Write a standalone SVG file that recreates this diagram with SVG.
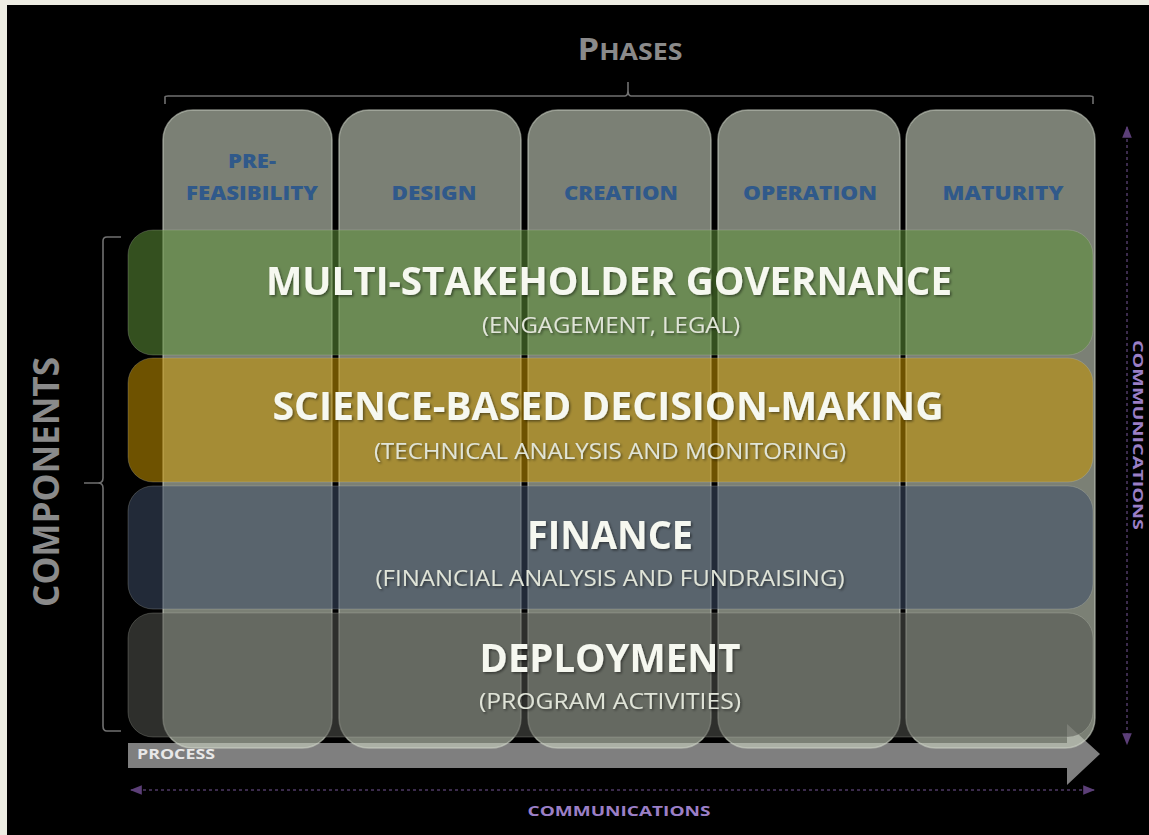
<svg xmlns="http://www.w3.org/2000/svg" width="1149" height="835" viewBox="0 0 1149 835">
  <style>
    .col { fill: #c6cebd; fill-opacity: 0.62; stroke: #d4d8cc; stroke-opacity: 0.55; stroke-width: 1.5; }
    .row { fill-opacity: 0.55; stroke: #c8cdbf; stroke-opacity: 0.25; stroke-width: 1; }
    .hdr { font-family: "Open Sans", "Liberation Sans", sans-serif; font-weight: 800; font-size: 20px; fill: #30598a; text-anchor: middle; }
    .ttl { font-family: "Open Sans", "Liberation Sans", sans-serif; font-weight: 700; font-size: 40px; fill: #f6f8f0; text-anchor: middle; filter: url(#sh); }
    .sub { font-family: "Open Sans", "Liberation Sans", sans-serif; font-weight: 400; font-size: 21px; fill: #e0e4d8; text-anchor: middle; filter: url(#sh); }
    .brk { fill: none; stroke: #707070; stroke-width: 1.6; }
    .comm { stroke: #3b2b4c; stroke-width: 2; stroke-dasharray: 3 3; fill: none; }
    .commtxt { font-family: "Open Sans", "Liberation Sans", sans-serif; font-weight: 700; font-size: 15px; fill: #9b7fc6; text-anchor: middle; }
    .lbl { font-family: "Open Sans", "Liberation Sans", sans-serif; font-weight: 700; fill: #8a8a8a; text-anchor: middle; }
  </style>
  <defs>
    <filter id="sh" x="-5%" y="-20%" width="110%" height="140%">
      <feDropShadow dx="1.5" dy="1.5" stdDeviation="1" flood-color="#000" flood-opacity="0.45"/>
    </filter>
    <marker id="cm" viewBox="0 0 10 10" refX="9" refY="5" markerWidth="6" markerHeight="6" orient="auto-start-reverse">
      <path d="M0,1 L10,5 L0,9 z" fill="#5c3f78"/>
    </marker>
  </defs>

  <rect x="0" y="0" width="1149" height="835" fill="#eeede3"/>
  <rect x="7" y="5" width="1142" height="830" fill="#000"/>

  <g id="connectors">
    <path id="process-arrow" d="M128,743 L1067,743 L1067,724 L1100,754 L1067,785 L1067,768 L128,768 Z" fill="#7f7f7f"/>
    <line class="comm" x1="131" y1="790" x2="1094" y2="790" marker-start="url(#cm)" marker-end="url(#cm)"/>
    <line class="comm" x1="1127" y1="127" x2="1127" y2="744" marker-start="url(#cm)" marker-end="url(#cm)"/>
    <path class="brk" d="M165,104 L165,97 Q165,96 168,96 L625,96 Q628,96 628,90 L628,82 M628,90 Q628,96 631,96 L1090,96 Q1093,96 1093,97 L1093,104"/>
    <path class="brk" d="M121,237 L107,237 Q103,237 103,241 L103,478 Q103,483 98,483 L84,483 M98,483 Q103,483 103,488 L103,726 Q103,731 107,731 L121,731"/>
  </g>

  <g id="phase-prefeasibility"><rect class="col" x="163" y="110" width="169" height="638" rx="30"/></g>
  <g id="phase-design"><rect class="col" x="339" y="110" width="182" height="638" rx="30"/></g>
  <g id="phase-creation"><rect class="col" x="528" y="110" width="183" height="638" rx="30"/></g>
  <g id="phase-operation"><rect class="col" x="718" y="110" width="182" height="638" rx="30"/></g>
  <g id="phase-maturity"><rect class="col" x="906" y="110" width="189" height="638" rx="30"/></g>

  <g id="component-governance">
    <rect class="row" x="128" y="230" width="965" height="125" rx="25" fill="#5f9138"/>
    <text class="ttl" x="609" y="295" textLength="686" lengthAdjust="spacingAndGlyphs">MULTI-STAKEHOLDER GOVERNANCE</text>
    <text class="sub" x="611" y="333" textLength="258" lengthAdjust="spacingAndGlyphs">(ENGAGEMENT, LEGAL)</text>
  </g>
  <g id="component-science">
    <rect class="row" x="128" y="358" width="965" height="124" rx="25" fill="#c89500"/>
    <text class="ttl" x="608" y="420" textLength="671" lengthAdjust="spacingAndGlyphs">SCIENCE-BASED DECISION-MAKING</text>
    <text class="sub" x="610" y="459" textLength="472" lengthAdjust="spacingAndGlyphs">(TECHNICAL ANALYSIS AND MONITORING)</text>
  </g>
  <g id="component-finance">
    <rect class="row" x="128" y="486" width="965" height="123" rx="25" fill="#3e4c66"/>
    <text class="ttl" x="610" y="549" textLength="166" lengthAdjust="spacingAndGlyphs">FINANCE</text>
    <text class="sub" x="610" y="586" textLength="469" lengthAdjust="spacingAndGlyphs">(FINANCIAL ANALYSIS AND FUNDRAISING)</text>
  </g>
  <g id="component-deployment">
    <rect class="row" x="128" y="613" width="965" height="124" rx="25" fill="#545650"/>
    <text class="ttl" x="610" y="672" textLength="261" lengthAdjust="spacingAndGlyphs">DEPLOYMENT</text>
    <text class="sub" x="610" y="709" textLength="262" lengthAdjust="spacingAndGlyphs">(PROGRAM ACTIVITIES)</text>
  </g>

  <g id="phase-labels">
    <text class="hdr" x="252" y="168" textLength="48" lengthAdjust="spacingAndGlyphs">PRE-</text>
    <text class="hdr" x="252" y="200" textLength="132" lengthAdjust="spacingAndGlyphs">FEASIBILITY</text>
    <text class="hdr" x="434" y="200" textLength="85" lengthAdjust="spacingAndGlyphs">DESIGN</text>
    <text class="hdr" x="621" y="200" textLength="114" lengthAdjust="spacingAndGlyphs">CREATION</text>
    <text class="hdr" x="810" y="200" textLength="134" lengthAdjust="spacingAndGlyphs">OPERATION</text>
    <text class="hdr" x="1003" y="200" textLength="121" lengthAdjust="spacingAndGlyphs">MATURITY</text>
  </g>

  <g id="labels">
    <text class="lbl" x="630" y="60" textLength="105" lengthAdjust="spacingAndGlyphs"><tspan font-size="31">P</tspan><tspan font-size="24">HASES</tspan></text>
    <text class="lbl" font-size="36" transform="translate(59,482) rotate(-90)" textLength="250" lengthAdjust="spacingAndGlyphs">COMPONENTS</text>
    <text x="137" y="759" font-family="Open Sans, Liberation Sans, sans-serif" font-weight="700" font-size="14" fill="#e8e8e8" textLength="78" lengthAdjust="spacingAndGlyphs">PROCESS</text>
    <text class="commtxt" x="619" y="816" textLength="183" lengthAdjust="spacingAndGlyphs">COMMUNICATIONS</text>
    <text class="commtxt" font-size="14" transform="translate(1133,435) rotate(90)" textLength="190" lengthAdjust="spacingAndGlyphs">COMMUNICATIONS</text>
  </g>
</svg>
